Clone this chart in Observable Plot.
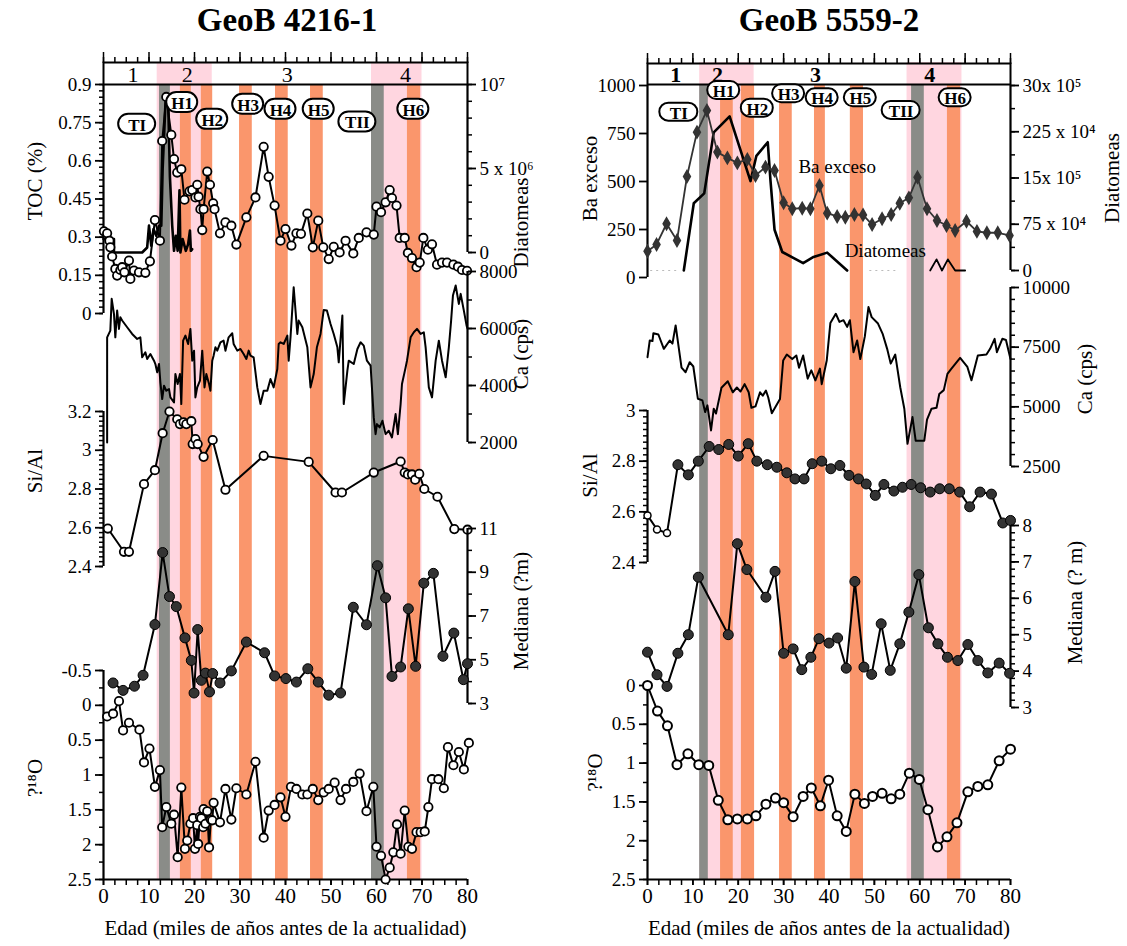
<!DOCTYPE html>
<html><head><meta charset="utf-8">
<script src="https://cdn.jsdelivr.net/npm/d3@7"></script>
<script src="https://cdn.jsdelivr.net/npm/@observablehq/plot@0.6"></script>
<style>
body{margin:0;background:#fff;}
#page{position:relative;width:1127px;height:946px;overflow:hidden;font-family:"Liberation Serif","Times New Roman",serif;}
#page svg{position:absolute;left:0;top:0;background:transparent !important;overflow:visible;max-width:none !important;}
#page svg text{font-family:"Liberation Serif","Times New Roman",serif !important;font-variant:normal !important;}
.title{position:absolute;top:0px;font:bold 33px "Liberation Serif","Times New Roman",serif;line-height:40px;transform:translateX(-50%);white-space:nowrap;}
</style></head><body>
<div id="page">
  <div class="title" style="left:287px">GeoB 4216-1</div>
  <div class="title" style="left:829px">GeoB 5559-2</div>
</div>
<script>
// ---------------- DATA: GeoB 4216-1 (left) ----------------
const tocL = [[0.1,0.323],[0.8,0.315],[1.3,0.286],[1.5,0.26],[1.9,0.224],[2.6,0.175],[3.0,0.149],[3.7,0.171],[4.1,0.182],[4.6,0.162],[5.6,0.208],[5.9,0.136],[6.7,0.169],[7.8,0.162],[9.2,0.16],[10.2,0.205],[11.3,0.367],[12.4,0.286],[12.9,0.678],[13.8,0.851],[14.9,0.702],[15.5,0.607],[16.2,0.554],[17.1,0.567],[17.8,0.447],[18.9,0.48],[19.5,0.485],[20.2,0.456],[20.6,0.506],[20.9,0.459],[21.3,0.41],[21.7,0.328],[22.0,0.41],[22.8,0.558],[23.4,0.506],[24.1,0.433],[24.4,0.41],[25.6,0.315],[26.8,0.358],[28.1,0.345],[29.2,0.271],[31.4,0.378],[33.4,0.456],[35.2,0.655],[36.3,0.537],[37.6,0.424],[38.9,0.286],[40.0,0.332],[41.3,0.267],[42.4,0.315],[43.4,0.313],[44.8,0.393],[46.0,0.26],[47.2,0.365],[48.3,0.26],[49.5,0.214],[50.6,0.262],[51.9,0.24],[53.2,0.286],[54.9,0.236],[56.1,0.297],[57.8,0.319],[59.4,0.31],[60.0,0.42],[61.0,0.398],[62.0,0.437],[62.9,0.485],[63.4,0.454],[64.4,0.424],[65.1,0.297],[66.2,0.297],[66.9,0.238],[67.8,0.218],[68.8,0.182],[69.5,0.2],[70.3,0.297],[71.3,0.251],[72.2,0.272],[73.3,0.192],[74.4,0.2],[75.5,0.2],[76.9,0.192],[77.9,0.184],[78.8,0.171],[79.9,0.168]];
const diatL = [[0,0.8e6],[2.3,0.8e6],[2.3,0],[8.5,0],[9.6,0.3e6],[10.0,1.6e6],[10.5,0.4e6],[11.0,1.4e6],[11.6,1.0e6],[12.2,1.6e6],[12.7,1.6e6],[13.0,5.0e6],[13.7,9.4e6],[14.2,9.2e6],[14.6,4.5e6],[15.1,1.6e6],[15.5,0.1e6],[15.9,1.0e6],[16.3,0.1e6],[16.7,3.7e6],[16.9,0],[17.4,0.8e6],[18.1,0.1e6],[18.6,0.5e6],[19.0,1.3e6],[19.2,0.1e6],[19.5,0.2e6]];
const caL = [[0.8,2000],[0.8,5690],[1.5,5926],[1.8,7040],[2.3,6510],[2.6,5690],[3.0,6630],[3.4,5985],[3.7,6395],[4.1,6280],[5.2,6043],[6.3,5809],[7.4,5633],[8.1,5690],[8.5,4989],[9.2,5164],[9.6,4930],[10.3,5106],[11.1,4871],[11.4,4754],[11.8,4461],[12.2,4754],[12.5,4110],[12.9,3524],[13.3,3993],[13.8,3817],[14.4,3875],[14.7,3583],[15.5,3407],[15.8,4403],[16.3,4051],[16.8,4403],[17.1,3348],[17.5,5574],[18.0,5750],[18.6,5457],[19.1,5985],[19.5,4871],[19.9,5223],[20.2,3583],[20.6,3934],[21.2,4168],[21.7,5223],[22.2,3934],[22.6,4403],[23.2,4051],[23.5,3817],[23.9,4871],[24.2,5047],[24.6,5340],[25.0,5223],[25.7,5516],[26.4,5574],[26.8,5223],[27.5,5690],[28.3,5832],[28.6,5457],[29.4,5223],[30.1,5282],[30.8,5106],[31.4,4930],[31.9,5223],[32.3,5047],[33.0,4989],[33.8,3934],[34.5,3348],[35.2,3817],[36.0,3817],[36.7,4227],[37.4,3934],[38.2,4579],[38.5,5457],[38.9,5516],[39.6,5457],[40.4,5750],[40.7,4871],[41.1,5690],[41.8,7449],[42.6,5809],[42.9,6277],[43.7,6043],[44.8,5340],[45.5,3934],[46.2,4403],[46.9,5340],[47.7,5809],[48.4,6652],[49.1,6629],[49.9,6160],[50.6,5809],[51.4,5340],[51.7,4813],[52.5,6453],[52.8,3348],[53.6,4520],[53.9,4871],[55.0,4754],[55.8,5282],[56.5,5516],[57.2,5399],[57.9,4871],[58.7,4696],[59.4,2880],[59.8,2294],[60.1,2645],[60.7,2528],[61.3,2762],[62.0,2294],[62.7,2411],[63.4,2177],[64.2,2997],[64.7,2294],[65.3,3348],[65.6,4051],[66.4,4637],[66.7,4871],[67.5,5690],[68.2,5867],[68.9,5985],[69.7,5809],[70.4,5867],[70.8,5340],[71.5,3934],[72.2,3583],[73.0,4871],[73.7,5574],[74.4,4871],[75.2,4286],[75.9,5340],[76.4,6277],[76.8,7156],[77.4,7508],[78.1,6863],[78.5,7215],[79.2,6629],[79.8,6102],[80.0,6000]];
const sialL = [[0.95,2.596],[4.5,2.476],[5.6,2.476],[8.9,2.825],[11.3,2.897],[13.0,3.088],[14.5,3.2],[16.2,3.16],[16.8,3.135],[17.6,3.144],[18.2,3.135],[19.3,3.15],[19.6,3.032],[20.2,3.058],[20.7,3.032],[22.0,2.966],[24.0,3.053],[26.8,2.796],[35.2,2.971],[45.1,2.94],[51.0,2.782],[52.4,2.782],[59.4,2.885],[65.3,2.942],[66.2,2.885],[66.9,2.875],[67.8,2.875],[68.5,2.848],[69.4,2.878],[70.5,2.80],[73.4,2.76],[77.1,2.593],[80,2.59]];
const medL = [[2.1,3.94],[4.3,3.6],[6.8,3.79],[8.7,4.29],[11.3,6.61],[13.0,9.9],[14.5,7.89],[16.0,7.43],[17.9,6.0],[19.3,4.97],[19.9,3.48],[20.7,6.38],[21.5,4.06],[22.4,4.39],[23.3,3.53],[24.0,4.37],[25.6,3.94],[28.1,4.49],[31.4,5.81],[35.4,5.32],[37.6,4.26],[40.1,4.14],[42.4,3.98],[44.9,4.59],[47.2,3.98],[49.5,3.38],[52.1,3.48],[54.9,7.40],[57.8,6.60],[60.2,9.30],[62.0,7.83],[63.4,4.24],[65.3,4.67],[67.0,7.33],[68.6,4.70],[70.4,8.50],[72.5,8.95],[74.6,5.16],[77.0,6.22],[79.1,4.09],[80,4.82]];
const d18L = [[0.8,0.16],[2.1,0.12],[3.4,-0.06],[4.3,0.36],[5.6,0.25],[7.9,0.35],[8.9,0.82],[10.1,0.62],[11.3,1.17],[12.4,0.93],[12.9,1.75],[13.8,1.46],[14.9,1.70],[15.5,1.57],[16.3,2.18],[17.1,1.18],[17.9,2.06],[18.4,1.94],[19.1,1.70],[19.7,1.62],[20.1,2.06],[20.6,1.72],[20.8,1.99],[21.2,1.60],[21.5,1.62],[21.9,1.75],[22.0,1.49],[22.4,1.70],[22.8,1.52],[23.2,2.04],[23.6,1.64],[23.9,1.65],[24.2,1.40],[25.6,1.68],[26.8,1.20],[28.1,1.64],[29.2,1.19],[31.4,1.28],[33.4,0.81],[35.2,1.90],[36.3,1.51],[37.6,1.43],[38.9,1.32],[40.0,1.60],[41.2,1.17],[42.4,1.20],[43.7,1.28],[44.8,1.28],[46.0,1.20],[47.2,1.36],[48.4,1.25],[49.5,1.20],[50.8,1.11],[52.1,1.36],[53.3,1.20],[54.9,1.10],[56.3,0.98],[57.8,1.52],[59.3,1.17],[60.0,2.03],[61.0,2.16],[62.0,2.50],[62.9,2.33],[63.7,2.11],[64.5,1.71],[65.3,2.13],[66.2,1.51],[67.0,2.03],[67.8,2.06],[68.8,1.82],[69.7,1.82],[70.6,1.81],[71.4,1.46],[72.2,1.06],[73.6,1.06],[74.8,1.19],[75.7,0.60],[76.9,0.86],[78.1,0.67],[79.2,0.92],[80.3,0.54]];

// ---------------- DATA: GeoB 5559-2 (right) ----------------
const baR = [[0,137],[2.0,172],[4.2,280],[6.5,193],[8.7,526],[10.9,757],[13.1,870],[15.4,653],[17.6,623],[19.8,597],[22.0,615],[23.8,531],[26.0,575],[28.0,557],[30.0,389],[31.9,358],[34.1,361],[35.9,358],[37.9,479],[39.6,335],[41.8,318],[43.6,314],[45.6,328],[47.5,326],[49.5,276],[51.7,306],[53.7,328],[55.6,387],[57.6,415],[59.5,522],[61.6,358],[63.8,297],[65.9,271],[67.8,245],[70.3,293],[72.6,240],[74.8,233],[77.2,233],[79.8,219]];
const diatR1 = [[8.0,0],[10.2,1.09e6],[12.5,1.25e6],[14.6,2.24e6],[18.1,2.5e6],[22.7,1.45e6],[24.0,1.86e6],[26.5,2.08e6],[27.1,1.46e6],[28.0,0.66e6],[29.7,0.30e6],[34.3,0.12e6],[36.6,0.22e6],[39.6,0.29e6],[44.0,0]];
const diatR2 = [[62.3,0],[63.7,0.18e6],[64.9,0],[66.2,0.18e6],[67.8,0],[70.0,0]];
const diatGapR = [[0.7,7.3],[49,55]];
const caR = [[0,7080],[0.5,7780],[1.1,7760],[1.3,8085],[2.4,8030],[3.6,7430],[4.9,7780],[5.5,7650],[6.2,8410],[7.5,6640],[8.4,6450],[9.3,6870],[10.1,6690],[11.1,5340],[12.1,5270],[12.7,4780],[13.2,5060],[14.0,4010],[14.6,4920],[15.1,4720],[16.3,5800],[17.7,6070],[18.8,5610],[19.7,5810],[20.5,5640],[21.4,5950],[22.3,5610],[22.9,4960],[23.8,5020],[24.8,5610],[25.4,5470],[26.1,5680],[26.6,5400],[27.4,4735],[29.2,5330],[29.9,6940],[30.7,7190],[31.9,7000],[32.8,7150],[33.4,6640],[34.3,7150],[35.3,6180],[36.1,6530],[37.0,6110],[38.0,6600],[38.4,5950],[39.5,6940],[40.3,8510],[41.5,8900],[42.3,8560],[43.2,8630],[44.0,8350],[44.6,8630],[45.4,7290],[46.2,7780],[46.9,7000],[47.9,7950],[48.7,9180],[49.4,8760],[50.8,8490],[51.8,8070],[52.8,7440],[53.6,6810],[54.6,7190],[55.7,5820],[56.6,4920],[57.3,3450],[58.4,4570],[59.1,3580],[61.0,3580],[61.6,4460],[62.6,4920],[63.7,4960],[64.3,5540],[65.3,5700],[66.1,6380],[66.9,6580],[68.9,7050],[70.5,6670],[71.4,6110],[72.8,7150],[74.7,7190],[75.5,7430],[76.5,7850],[77.0,7290],[78.2,7850],[79.0,7800],[80,7000]];
const sialR = [[0,2.586],[2.1,2.53],[4.3,2.516],[6.7,2.786],[9.0,2.746],[11.2,2.80],[13.6,2.858],[15.7,2.846],[17.9,2.866],[20.0,2.82],[22.2,2.869],[24.1,2.80],[26.4,2.786],[28.5,2.776],[30.7,2.754],[32.5,2.73],[34.5,2.73],[36.3,2.79],[38.4,2.80],[40.4,2.77],[42.4,2.783],[44.4,2.744],[46.5,2.73],[48.2,2.71],[50.2,2.665],[52.1,2.708],[54.3,2.682],[56.2,2.697],[58.1,2.708],[60.2,2.695],[62.3,2.678],[64.4,2.691],[66.5,2.691],[68.8,2.678],[71.0,2.62],[73.3,2.678],[75.8,2.67],[78.3,2.556],[80,2.566]];
const medR = [[0,4.52],[2.1,3.90],[4.3,3.58],[6.7,4.49],[9.0,5.0],[11.2,6.58],[17.8,5.0],[19.8,7.50],[21.9,6.79],[26.1,6.03],[28.1,6.74],[30.0,4.49],[32.1,4.61],[34.0,4.04],[36.0,4.38],[37.8,4.89],[40.0,4.77],[41.9,4.91],[43.8,4.08],[45.7,6.46],[47.7,4.11],[49.4,3.91],[51.5,5.30],[53.5,4.02],[55.6,4.75],[57.6,5.62],[59.8,6.65],[61.9,5.19],[64.0,4.75],[66.1,4.38],[68.4,4.29],[70.6,4.73],[72.8,4.29],[75.0,3.95],[77.5,4.22],[79.8,3.94]];
const d18R = [[0,0],[2.2,0.33],[4.4,0.52],[6.5,1.02],[8.9,0.88],[11.3,1.02],[13.5,1.03],[15.6,1.48],[17.7,1.73],[19.8,1.72],[22.0,1.72],[23.9,1.68],[26.1,1.53],[28.2,1.45],[30.0,1.51],[32.1,1.69],[34.3,1.43],[36.1,1.32],[38.1,1.55],[39.9,1.22],[41.8,1.68],[43.8,1.88],[45.7,1.40],[47.8,1.52],[49.6,1.43],[51.7,1.39],[53.7,1.46],[55.6,1.40],[57.7,1.13],[59.9,1.21],[61.8,1.60],[63.9,2.08],[66.0,1.95],[68.2,1.77],[70.6,1.37],[72.8,1.30],[75.0,1.28],[77.5,0.97],[80,0.82]];

// ---------------- Bands, stages, event labels ----------------
const pinkL = [[11.8,23.9],[58.9,70.0]];
const greyL = [[12.3,14.7],[58.9,61.7]];
const orangeL = [[16.9,19.3],[21.5,24.0],[29.9,32.7],[37.8,40.6],[45.5,48.3],[66.8,69.7]];
const pinkR = [[11.5,23.5],[57.2,69.3]];
const greyR = [[11.5,13.4],[58.2,61.0]];
const orangeR = [[16.1,18.9],[20.7,23.6],[29.1,31.9],[36.8,39.2],[44.7,47.6],[66.1,69.0]];
const stageLabels = ["1","2","3","4"];
const stageXL = [6.5,18.4,40.4,66.4];
const stageXR = [6.2,15.4,37.0,62.2];
const eventLabels = ["TI","H1","H2","H3","H4","H5","TII","H6"];
const eventXL = [7.4,17.3,23.9,31.8,38.9,47.3,55.8,68.1];
const eventYL = [0.744,0.829,0.763,0.822,0.803,0.803,0.753,0.803];   // TOC units
const eventXR = [6.9,16.8,24.2,31.1,38.5,46.9,55.9,67.8];
const eventYR = [861,974,882,957,936,936,870,936];                  // Ba exceso units

// tick labels
const diatTickL = [0,5e6,1e7];
const diatTextL = ["0","5 x 10\u2076","10\u2077"];
const diatTickR = [0,750000,1500000,2250000,3000000];
const diatTextR = ["0","75 x 10\u2074","15x 10\u2075","225 x 10\u2074","30x 10\u2075"];
const xTicks = [0,10,20,30,40,50,60,70,80];
const xMinor = d3.range(0,80.01,2.5);

// ---------------- rendering ----------------
const W=1127,H=946;
const FONT='"Liberation Serif","Times New Roman",serif';
const PINK="#ffd6e0", ORANGE="#fa966c", GREY="#8a8c88";
const page=document.getElementById("page");
const LX=[103,467], RX=[647,1010];
const X=d=>d[0], Y=d=>d[1], X2=d=>d[1];

function layer(xr,yTop,yBot,yDomain,marks){
  const svg=Plot.plot({width:W,height:H,marginLeft:xr[0],marginRight:W-xr[1],marginTop:yTop,marginBottom:H-yBot,
    x:{domain:[0,80],axis:null}, y:{domain:yDomain,axis:null},
    style:{background:"transparent",overflow:"visible",fontFamily:FONT,fontSize:"19px",color:"black"},
    marks});
  page.appendChild(svg);
}
function yAxis(anchor,major,fmt,minor){
  const m=[];
  if(minor) m.push(Plot.axisY({anchor,ticks:minor,tickSize:4,tickFormat:()=>"",label:null,strokeWidth:1.5}));
  m.push(Plot.axisY({anchor,ticks:major,tickSize:8,tickPadding:4,tickFormat:fmt,label:null,strokeWidth:1.8,fontSize:19}));
  m.push(Plot.ruleX([anchor==="left"?0:80],{strokeWidth:2.2}));
  return m;
}
function vlabel(t,anchor,dx,dy){
  return Plot.text([t],{frameAnchor:anchor,dx,dy,rotate:-90,textAnchor:"middle",lineAnchor:"middle",fontSize:21});
}
function bands(xr,pink,grey,orange){
  layer(xr,62,879,[0,1],[Plot.rect(pink,{x1:X,x2:X2,fill:PINK})]);
  layer(xr,84,879,[0,1],[Plot.rect(orange,{x1:X,x2:X2,fill:ORANGE}),Plot.rect(grey,{x1:X,x2:X2,fill:GREY})]);
}
function box(xr,top,bot,stx,bold){
  layer(xr,top,bot,[0,1],[
    Plot.frame({stroke:"black",strokeWidth:2}),
    Plot.axisX({anchor:"top",ticks:xMinor,tickSize:6,tickFormat:()=>"",label:null,strokeWidth:1.5}),
    Plot.axisX({anchor:"top",ticks:xTicks,tickSize:11,tickFormat:()=>"",label:null,strokeWidth:1.5}),
    Plot.text(stageLabels,{x:(d,i)=>stx[i],frameAnchor:"middle",fontSize:22,fontWeight:bold?"bold":"normal",dy:1})
  ]);
}
function bubbles(xs,ys,wide,narrow,hh){
  const data=eventLabels.map((t,i)=>({t,x:xs[i],y:ys[i]}));
  const w=data.filter(d=>d.t.startsWith("T")), n=data.filter(d=>!d.t.startsWith("T"));
  const opt=(hw)=>({x1:"x",x2:"x",y1:"y",y2:"y",insetLeft:-hw,insetRight:-hw,insetTop:-hh,insetBottom:-hh,rx:hh,fill:"white",stroke:"black",strokeWidth:2});
  return [Plot.rect(w,opt(wide)),Plot.rect(n,opt(narrow)),
    Plot.text(data,{x:"x",y:"y",text:"t",fontWeight:"bold",fontSize:17,dy:1})];
}
function bottomAxis(){
  return [
    Plot.axisX({anchor:"bottom",ticks:xMinor,tickSize:6,tickFormat:()=>"",label:null,strokeWidth:1.5}),
    Plot.axisX({anchor:"bottom",ticks:xTicks,tickSize:6,tickPadding:3,tickFormat:d=>String(d),label:null,strokeWidth:1.8,fontSize:21}),
    Plot.text(["Edad (miles de años antes de la actualidad)"],{frameAnchor:"bottom",dy:55,fontSize:21})
  ];
}
const f2=d=>String(+d.toFixed(2));

// ===== LEFT PANEL =====
bands(LX,pinkL,greyL,orangeL);
box(LX,62,84,stageXL,false);
layer(LX,84,252,[0,1e7],[
  ...yAxis("right",diatTickL,d=>diatTextL[diatTickL.indexOf(d)],d3.range(0,1e7+1,1e6)),
  Plot.line(diatL,{x:X,y:Y,stroke:"black",strokeWidth:2.6}),
  vlabel("Diatomeas","right",54,54)
]);
layer(LX,84,313,[0,0.9],[
  ...yAxis("left",[0,0.15,0.3,0.45,0.6,0.75,0.9],f2,d3.range(0,0.901,0.025)),
  Plot.line(tocL,{x:X,y:Y,stroke:"black",strokeWidth:2}),
  Plot.dot(tocL,{x:X,y:Y,r:4.2,fill:"white",stroke:"black",strokeWidth:1.8}),
  vlabel("TOC (%)","left",-68,-18),
  ...bubbles(eventXL,eventYL,18.5,15.5,10)
]);
layer(LX,271,442,[2000,8000],[
  ...yAxis("right",[2000,4000,6000,8000],d=>String(d),d3.range(2000,8001,1000)),
  Plot.line(caL,{x:X,y:Y,stroke:"black",strokeWidth:2}),
  vlabel("Ca (cps)","right",54,-3)
]);
layer(LX,411,566,[2.4,3.2],[
  ...yAxis("left",[2.4,2.6,2.8,3.0,3.2],f2,d3.range(2.4,3.2001,0.025)),
  Plot.line(sialL,{x:X,y:Y,stroke:"black",strokeWidth:2}),
  Plot.dot(sialL,{x:X,y:Y,r:4.2,fill:"white",stroke:"black",strokeWidth:1.8}),
  vlabel("Si/Al","left",-68,-18)
]);
layer(LX,528,703,[3,11],[
  ...yAxis("right",[3,5,7,9,11],d=>String(d),d3.range(3,11.01,1)),
  Plot.line(medL,{x:X,y:Y,stroke:"black",strokeWidth:2}),
  Plot.dot(medL,{x:X,y:Y,r:5,fill:"#333",stroke:"black",strokeWidth:1}),
  vlabel("Mediana (?m)","right",54,-5)
]);
layer(LX,670,879,[2.5,-0.5],[
  ...yAxis("left",[-0.5,0,0.5,1,1.5,2,2.5],d=>String(d),d3.range(-0.5,2.501,0.25)),
  Plot.ruleY([2.5],{strokeWidth:2.2}),
  ...bottomAxis(),
  Plot.line(d18L,{x:X,y:Y,stroke:"black",strokeWidth:2}),
  Plot.dot(d18L,{x:X,y:Y,r:4.2,fill:"white",stroke:"black",strokeWidth:1.8}),
  vlabel("?\u00b9\u2078O","left",-68,3)
]);

// ===== RIGHT PANEL =====
bands(RX,pinkR,greyR,orangeR);
box(RX,63,84,stageXR,true);
layer(RX,85,270,[0,3e6],[
  ...yAxis("right",diatTickR,d=>diatTextR[diatTickR.indexOf(d)],d3.range(0,3e6+1,375000)),
  Plot.ruleY(diatGapR,{x1:X,x2:X2,y:()=>0,stroke:"#bbb",strokeWidth:1.2,strokeDasharray:"2,4"}),
  Plot.line(diatR1,{x:X,y:Y,stroke:"black",strokeWidth:2.6}),
  Plot.line(diatR2,{x:X,y:Y,stroke:"black",strokeWidth:1.8}),
  vlabel("Diatomeas","right",102,0)
]);
layer(RX,85,277,[0,1000],[
  ...yAxis("left",[0,250,500,750,1000],d=>String(d),null),
  Plot.line(baR,{x:X,y:Y,stroke:"#333",strokeWidth:1.8}),
  Plot.dot(baR,{x:X,y:Y,symbol:"diamond",r:3.6,fill:"#333",stroke:"#333"}),
  Plot.text(["Ba exceso"],{x:()=>41.8,y:()=>578,fontSize:19}),
  Plot.text(["Diatomeas"],{x:()=>52.4,y:()=>137,fontSize:19}),
  vlabel("Ba exceso","left",-57,-3),
  ...bubbles(eventXR,eventYR,19,16,9)
]);
layer(RX,287,466,[2500,10000],[
  ...yAxis("right",[2500,5000,7500,10000],d=>String(d),d3.range(2500,10001,500)),
  Plot.line(caR,{x:X,y:Y,stroke:"black",strokeWidth:2}),
  vlabel("Ca (cps)","right",75,2)
]);
layer(RX,410,562,[2.4,3.0],[
  ...yAxis("left",[2.4,2.6,2.8,3.0],f2,d3.range(2.4,3.0001,0.025)),
  Plot.line(sialR,{x:X,y:Y,stroke:"black",strokeWidth:2}),
  Plot.dot(sialR.slice(0,3),{x:X,y:Y,r:3.5,fill:"white",stroke:"black",strokeWidth:1.5}),
  Plot.dot(sialR.slice(3),{x:X,y:Y,r:5,fill:"#333",stroke:"black",strokeWidth:1}),
  vlabel("Si/Al","left",-57,-11)
]);
layer(RX,525,707,[3,8],[
  ...yAxis("right",[3,4,5,6,7,8],d=>String(d),d3.range(3,8.001,0.2)),
  Plot.line(medR,{x:X,y:Y,stroke:"black",strokeWidth:2}),
  Plot.dot(medR,{x:X,y:Y,r:5,fill:"#333",stroke:"black",strokeWidth:1}),
  vlabel("Mediana (? m)","right",65,-14)
]);
layer(RX,685,879,[2.5,0],[
  ...yAxis("left",[0,0.5,1,1.5,2,2.5],d=>String(d),d3.range(0,2.501,0.25)),
  Plot.ruleY([2.5],{strokeWidth:2.2}),
  ...bottomAxis(),
  Plot.line(d18R,{x:X,y:Y,stroke:"black",strokeWidth:2}),
  Plot.dot(d18R,{x:X,y:Y,r:4.5,fill:"white",stroke:"black",strokeWidth:2}),
  vlabel("?\u00b9\u2078O","left",-52,-10)
]);
</script>
</body></html>
